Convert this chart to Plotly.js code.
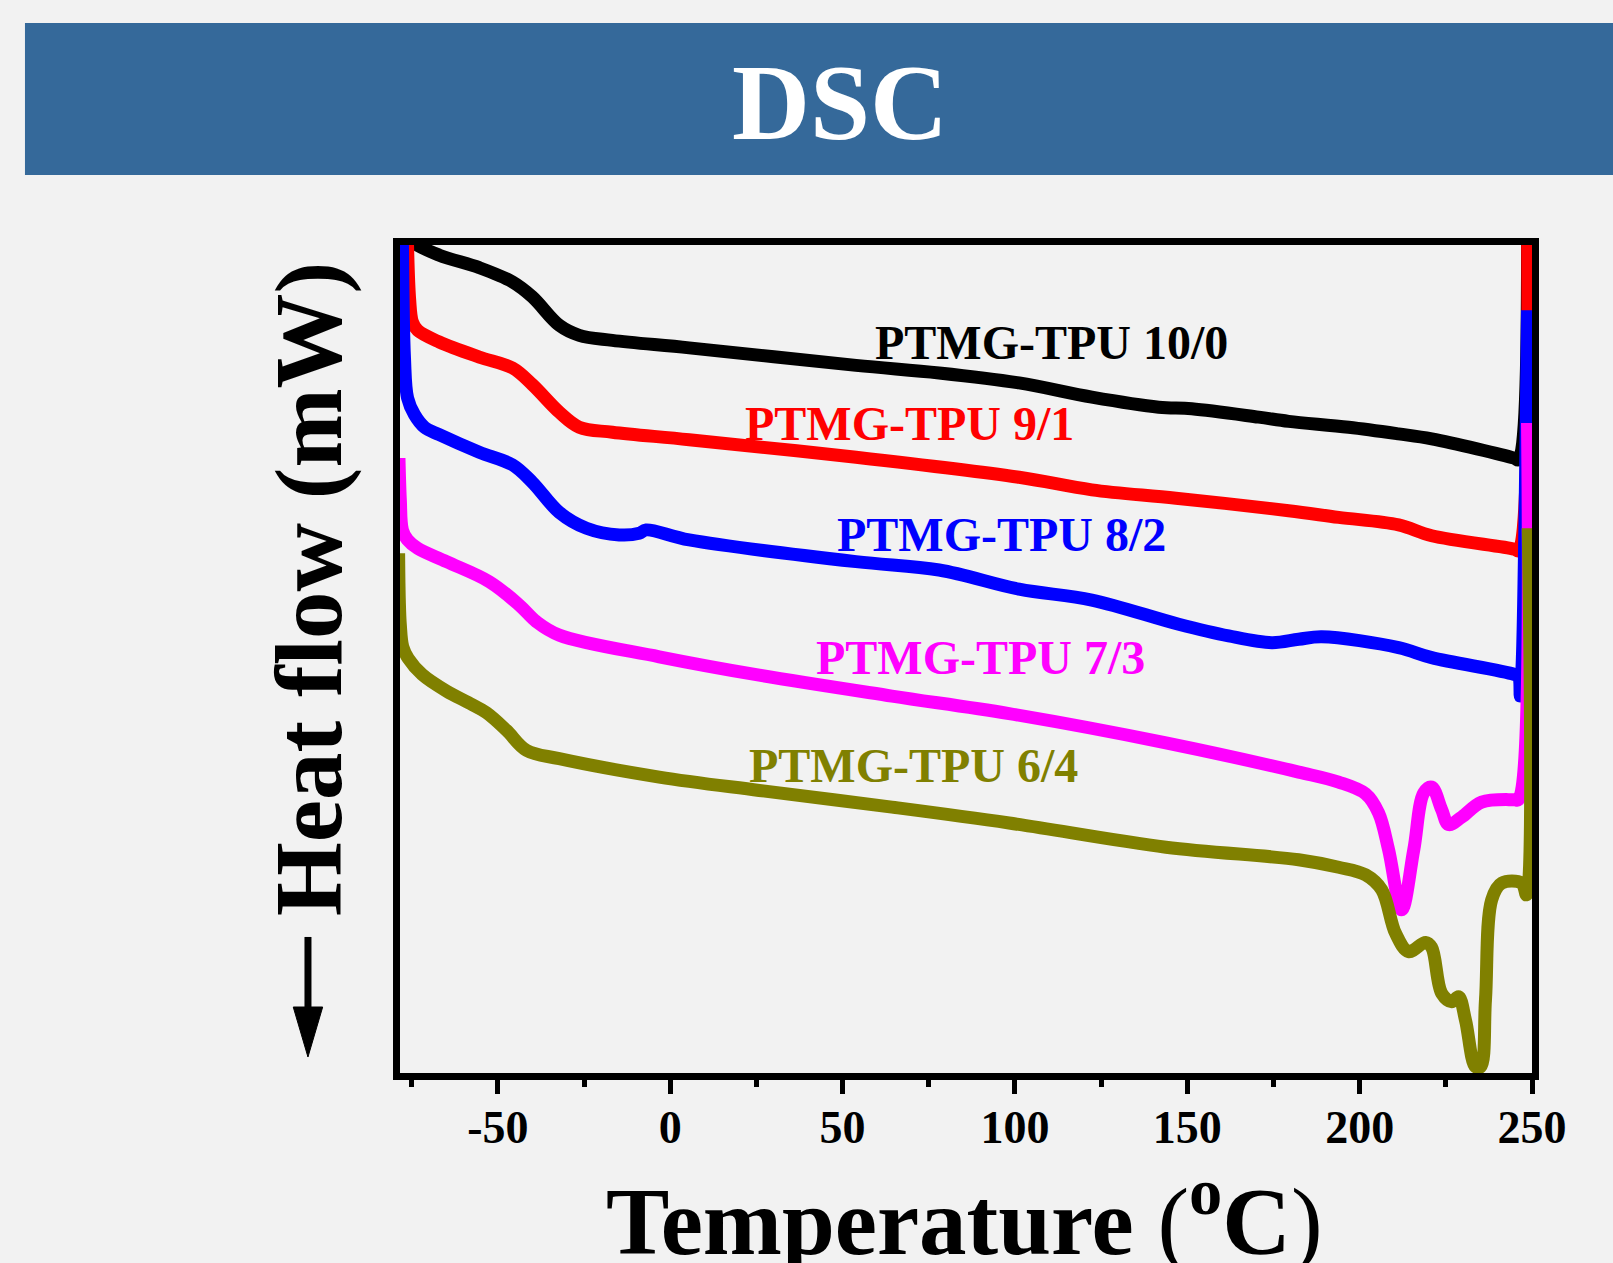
<!DOCTYPE html>
<html>
<head>
<meta charset="utf-8">
<script src="https://cdn.plot.ly/plotly-3.0.1.min.js"></script>
<style>
html,body{margin:0;padding:0;background:#F2F2F2;}
#chart{width:1613px;height:1263px;}
</style>
</head>
<body>
<div id="chart"></div>
<script>
// ---- Data (temperature in °C, heat flow in arbitrary mW units) ----
const temp_10_0 = [-77, -74.8, -67, -55.4, -45.8, -40, -32.2, -26.4, -16.8, 5.5, 53.9, 78, 101.2, 122.3, 141.7, 151.3, 170.7, 179.4, 196.8, 211.3, 220.9, 244.8, 246.1, 248.7];
const hf_10_0   = [101.2, 99.9, 98.3, 96.8, 95.1, 93.3, 89.9, 88.7, 88.1, 87.2, 85.1, 84.2, 83.0, 81.3, 80.1, 79.9, 78.9, 78.4, 77.7, 76.9, 76.3, 74.0, 73.8, 101];

const temp_9_1 = [-76.3, -75.6, -74.8, -73.3, -67, -55.4, -45.8, -40, -32.2, -26.4, -16.8, 5.5, 53.9, 101.2, 122.3, 146.7, 179.4, 193.9, 211.3, 220.9, 244.8, 246.1, 248.7];
const hf_9_1   = [101, 93, 90.3, 89.3, 87.9, 86.1, 84.8, 82.8, 79.5, 77.7, 77.1, 76.2, 74.1, 71.7, 70.2, 69.2, 67.7, 66.9, 66.0, 64.7, 63.1, 62.9, 101];

const temp_8_2 = [-77.7, -77.1, -76.2, -74.2, -71.3, -67, -55.4, -45.8, -40, -32.2, -24.3, -14.8, -9.0, -7.0, 5.5, 53.9, 78, 101.2, 122.3, 147.5, 162, 174.5, 182.3, 189, 211.3, 220.9, 244.8, 246.1, 246.6, 247.2, 248.7];
const hf_8_2   = [101, 86, 81.2, 79.2, 77.7, 76.8, 74.7, 73.2, 71.1, 67.5, 65.6, 64.8, 65.0, 65.4, 64.2, 61.6, 60.6, 58.3, 57.0, 54.1, 52.7, 51.9, 52.3, 52.6, 51.3, 50.1, 48.1, 47.8, 45.5, 50, 91.7];

const temp_7_3 = [-78.7, -78.3, -77.7, -76.2, -73.3, -64.9, -52.5, -43.8, -38.8, -32.2, -3.2, 25.8, 64.3, 98.3, 143.8, 182.3, 193.9, 201.7, 205.5, 208.4, 212.2, 215.7, 218.6, 220.9, 223.8, 225.8, 229.6, 235.4, 244.8, 246.1, 248.7];
const hf_7_3   = [74.0, 69.0, 65.4, 64.2, 63.2, 61.6, 59.2, 56.4, 54.4, 52.8, 50.2, 48.0, 45.5, 43.4, 39.9, 36.4, 35.2, 33.8, 31.5, 27.1, 19.9, 27.1, 33.9, 34.6, 31.9, 30.1, 31.0, 32.8, 33.1, 33.1, 78.2];

const temp_6_4 = [-78.8, -78.6, -78.3, -77.6, -76.0, -72.0, -64.9, -58.0, -53.3, -47.5, -41.7, -32.2, -3.2, 25.8, 64.3, 98.3, 143.8, 182.3, 193.9, 201.7, 206.4, 210.4, 214.2, 219.1, 220.9, 223.8, 226.7, 228.7, 230.7, 233.6, 235.1, 236.5, 238.3, 241.2, 247.0, 248.4, 248.9];
const hf_6_4   = [62.6, 57.0, 54.0, 51.4, 50.0, 48.1, 46.1, 44.6, 43.5, 41.4, 39.0, 38.0, 35.8, 34.2, 32.2, 30.3, 27.4, 25.9, 25.0, 24.1, 22.3, 17.1, 14.9, 16.0, 15.4, 9.9, 8.9, 9.5, 6.7, 1.1, 1.1, 9.1, 21.1, 23.1, 23.1, 21.7, 65.6];

const seriesNames  = ['PTMG-TPU 10/0', 'PTMG-TPU 9/1', 'PTMG-TPU 8/2', 'PTMG-TPU 7/3', 'PTMG-TPU 6/4'];
const seriesColors = ['#000000', '#FF0000', '#0000FF', '#FF00FF', '#808000'];
const labelX = [110.7, 69.3, 96.2, 90.1, 70.7];
const labelY = [87.9, 78.2, 64.8, 50.1, 37.2];

const tickVals = [-50, 0, 50, 100, 150, 200, 250];
const tickText = ['-50', '0', '50', '100', '150', '200', '250'];

const chartTitle = 'DSC';
const xTitle = 'Temperature <span style="font-weight:normal">(</span><sup>o</sup>C<span style="font-weight:normal">)</span>';
const yTitle = 'Heat flow (mW)';

// ---- Build ----
const xs = [temp_10_0, temp_9_1, temp_8_2, temp_7_3, temp_6_4];
const ys = [hf_10_0, hf_9_1, hf_8_2, hf_7_3, hf_6_4];

const serif = 'Liberation Serif, Times New Roman, serif';

const traces = xs.map((x, i) => ({
  x: x, y: ys[i], type: 'scatter', mode: 'lines', name: seriesNames[i],
  line: {color: seriesColors[i], width: 13, shape: 'spline', smoothing: 1.0},
  hoverinfo: 'skip'
}));

const annotations = seriesNames.map((n, i) => ({
  x: labelX[i], y: labelY[i], xref: 'x', yref: 'y', text: n, showarrow: false,
  xanchor: 'center', yanchor: 'middle',
  font: {family: serif, size: 48, weight: 'bold', color: seriesColors[i]}
}));

annotations.push({
  x: 0.3887, y: 1.1727, xref: 'paper', yref: 'paper', text: chartTitle, showarrow: false,
  xanchor: 'center', yanchor: 'middle',
  font: {family: serif, size: 108, weight: 'bold', color: '#FFFFFF'}
});
annotations.push({
  x: 0.4991, y: -0.1715, xref: 'paper', yref: 'paper', text: xTitle, showarrow: false,
  xanchor: 'center', yanchor: 'middle',
  font: {family: serif, size: 95, weight: 'bold', color: '#000000'}
});
annotations.push({
  x: -0.0804, y: 0.5845, xref: 'paper', yref: 'paper', text: yTitle, showarrow: false,
  textangle: -90, xanchor: 'center', yanchor: 'middle',
  font: {family: serif, size: 95, weight: 'bold', color: '#000000'}
});

const ax = -0.0813;
const shapes = [
  {type: 'rect', xref: 'paper', yref: 'paper', x0: -0.3313, x1: 1.2, y0: 1.0845, y1: 1.2681,
   fillcolor: '#35699A', line: {width: 0}, layer: 'below'},
  {type: 'line', xref: 'paper', yref: 'paper', x0: ax, x1: ax, y0: 0.1643, y1: 0.072,
   line: {color: '#000000', width: 7}},
  {type: 'path', xref: 'paper', yref: 'paper',
   path: `M ${ax - 0.0130},0.0797 L ${ax + 0.0130},0.0797 L ${ax},0.0193 Z`,
   fillcolor: '#000000', line: {color: '#000000', width: 1}}
];

const layout = {
  width: 1613, height: 1263,
  paper_bgcolor: '#F2F2F2', plot_bgcolor: '#F2F2F2',
  margin: {l: 400, r: 81, t: 245, b: 190},
  showlegend: false,
  xaxis: {
    range: [-78.4, 250], showgrid: false, zeroline: false,
    showline: true, linecolor: '#000000', linewidth: 7, mirror: true,
    tickmode: 'array', tickvals: tickVals, ticktext: tickText,
    ticks: 'outside', ticklen: 14, tickwidth: 5, tickcolor: '#000000',
    ticklabelstandoff: -6,
    minor: {tickmode: 'linear', tick0: 0, dtick: 25, ticks: 'outside', ticklen: 7, tickwidth: 5, tickcolor: '#000000'},
    tickfont: {family: serif, size: 46, weight: 'bold', color: '#000000'}
  },
  yaxis: {
    range: [0.36, 99.52], showgrid: false, zeroline: false,
    showline: true, linecolor: '#000000', linewidth: 7, mirror: true,
    showticklabels: false, ticks: ''
  },
  annotations: annotations,
  shapes: shapes
};

Plotly.newPlot('chart', traces, layout, {displayModeBar: false, staticPlot: true});
</script>
</body>
</html>
